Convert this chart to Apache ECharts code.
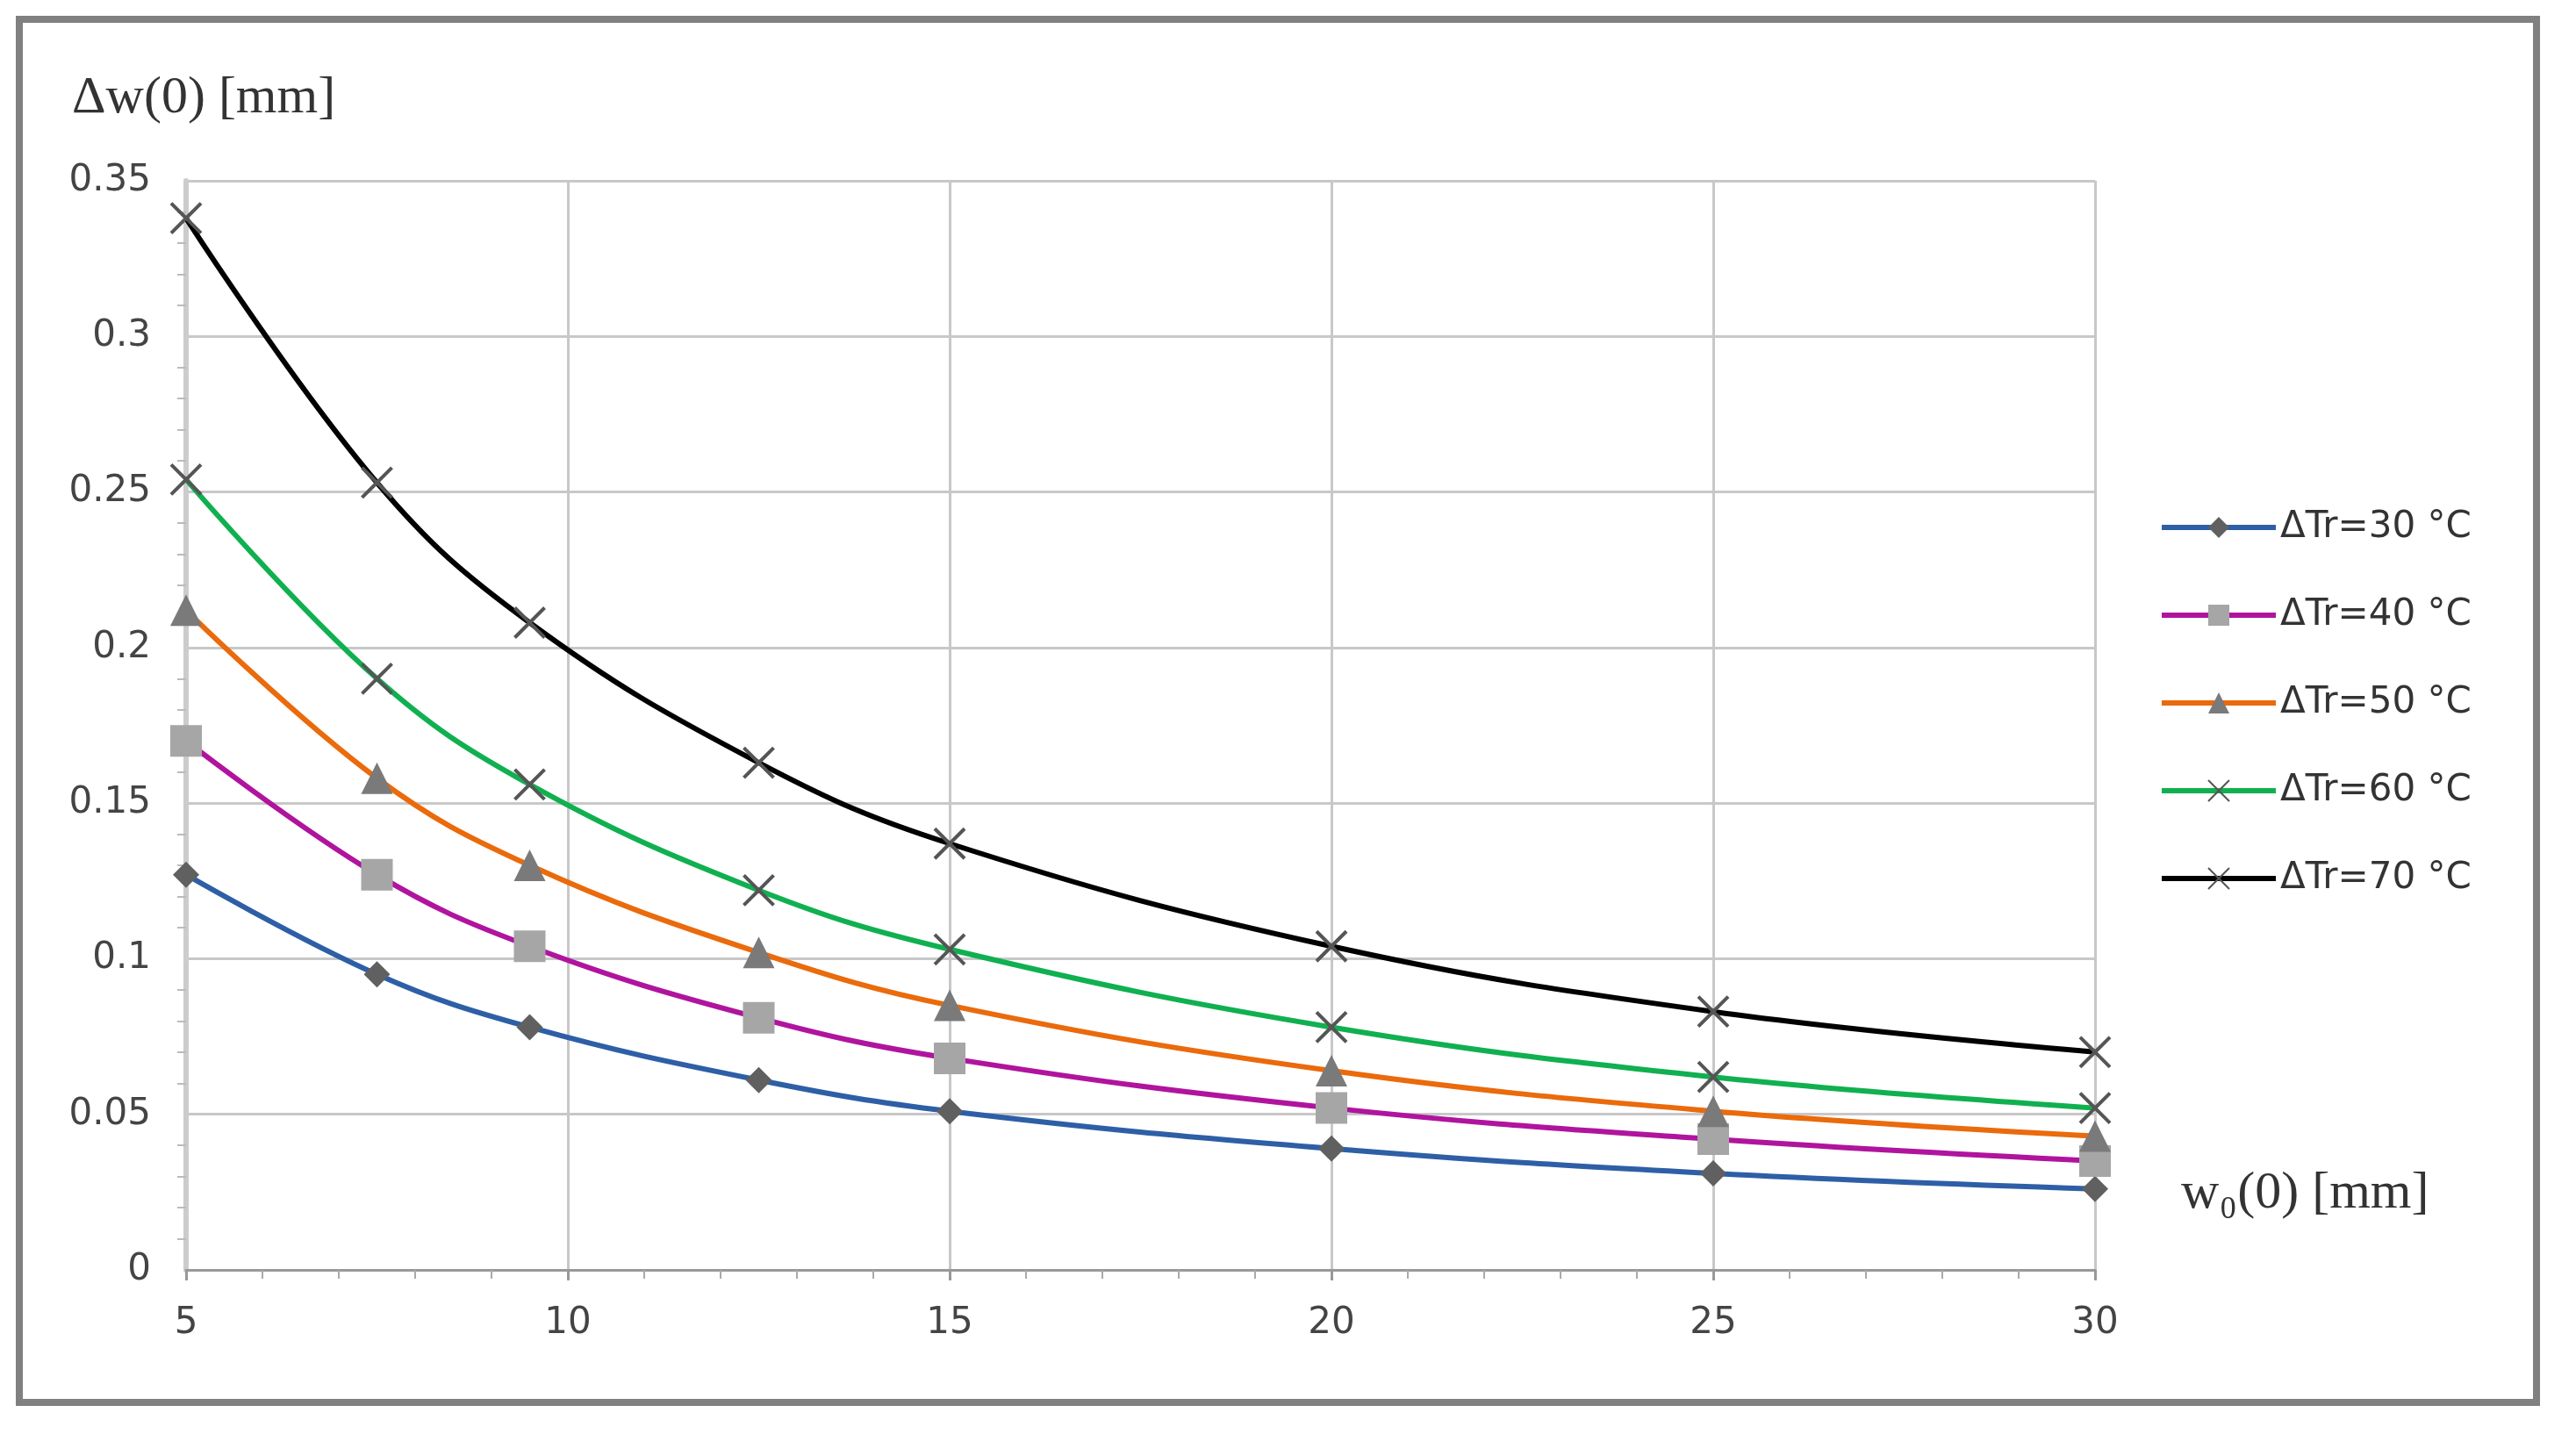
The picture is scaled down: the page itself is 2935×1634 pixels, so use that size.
<!DOCTYPE html>
<html><head><meta charset="utf-8">
<script src="https://cdn.jsdelivr.net/npm/echarts@6/dist/echarts.min.js"></script>
<style>html,body{margin:0;padding:0;background:#fff}
#frame{position:absolute;left:18px;top:18px;width:2876px;height:1584px;border:8px solid #808080;box-sizing:border-box}
#c{position:absolute;left:0;top:0;width:2935px;height:1634px}</style>
</head><body><div id="frame"></div><div id="c"></div>
<script>
const xs = [5, 7.5, 9.5, 12.5, 15, 20, 25, 30];
const names = ['ΔTr=30 °C','ΔTr=40 °C','ΔTr=50 °C','ΔTr=60 °C','ΔTr=70 °C'];
const s30 = [0.127, 0.095, 0.078, 0.061, 0.051, 0.039, 0.031, 0.026];
const s40 = [0.170, 0.127, 0.104, 0.081, 0.068, 0.052, 0.042, 0.035];
const s50 = [0.212, 0.158, 0.130, 0.102, 0.085, 0.064, 0.051, 0.043];
const s60 = [0.254, 0.190, 0.156, 0.122, 0.103, 0.078, 0.062, 0.052];
const s70 = [0.338, 0.253, 0.208, 0.163, 0.137, 0.104, 0.083, 0.070];
const colors = ['#2e5fa6','#b0149e','#ea6a0c','#10b050','#000000'];
const xsym = 'path://M0,0L1,1L2,0L1,1L2,2L1,1L0,2L1,1Z';
const symbols = ['diamond','rect','triangle',xsym,xsym];
const mcol = ['#606060','#a6a6a6','#7a7a7a','#555555','#555555'];
const sizes = [30,36,36,34,34];
const all = [s30,s40,s50,s60,s70];
const chart = echarts.init(document.getElementById('c'));
const font = 'DejaVu Sans';
chart.setOption({
  animation:false,
  grid:{left:212,right:548,top:206,bottom:187},
  legend:{orient:'vertical',left:2455,top:575,itemGap:58,itemWidth:130,itemHeight:30,
    lineStyle:{width:6},
    textStyle:{fontFamily:font,fontSize:42,color:'#333'},data:names},
  graphic:[
    {type:'text',left:2485,top:1330,style:{text:'w₀(0) [mm]',fontFamily:'Liberation Serif',fontSize:60,fill:'#333'}},
    {type:'text',left:82,top:82,style:{text:'Δw(0) [mm]',fontFamily:'Liberation Serif',fontSize:60,fill:'#333'}}
  ],
  xAxis:{type:'value',min:5,max:30,interval:5,
    axisLine:{lineStyle:{color:'#999',width:3}},axisTick:{show:true,length:12,lineStyle:{color:'#999',width:3}},
    minorTick:{show:true,splitNumber:5,length:10,lineStyle:{color:'#aaa',width:2}},
    axisLabel:{fontFamily:font,fontSize:42,color:'#444',margin:40},
    splitLine:{show:true,lineStyle:{color:'#c8c8c8',width:3}}},
  yAxis:{type:'value',min:0,max:0.35,interval:0.05,
    axisLine:{show:true,lineStyle:{color:'#ccc',width:6}},axisTick:{show:false},
    minorTick:{show:true,splitNumber:5,length:10,lineStyle:{color:'#bbb',width:2}},
    axisLabel:{fontFamily:font,fontSize:42,color:'#444',margin:40},
    splitLine:{show:true,lineStyle:{color:'#c8c8c8',width:3}}},
  series: all.map((d,i)=>({
    name:names[i],type:'line',smooth:0.4,
    data:xs.map((x,j)=>[x,d[j]]),
    symbol:symbols[i],symbolSize:sizes[i],showAllSymbol:true,
    lineStyle:{color:colors[i],width:6},
    itemStyle:{color:mcol[i],borderColor:mcol[i],borderWidth:i>=3?4:0},
    z:2+i
  }))
});
</script></body></html>
